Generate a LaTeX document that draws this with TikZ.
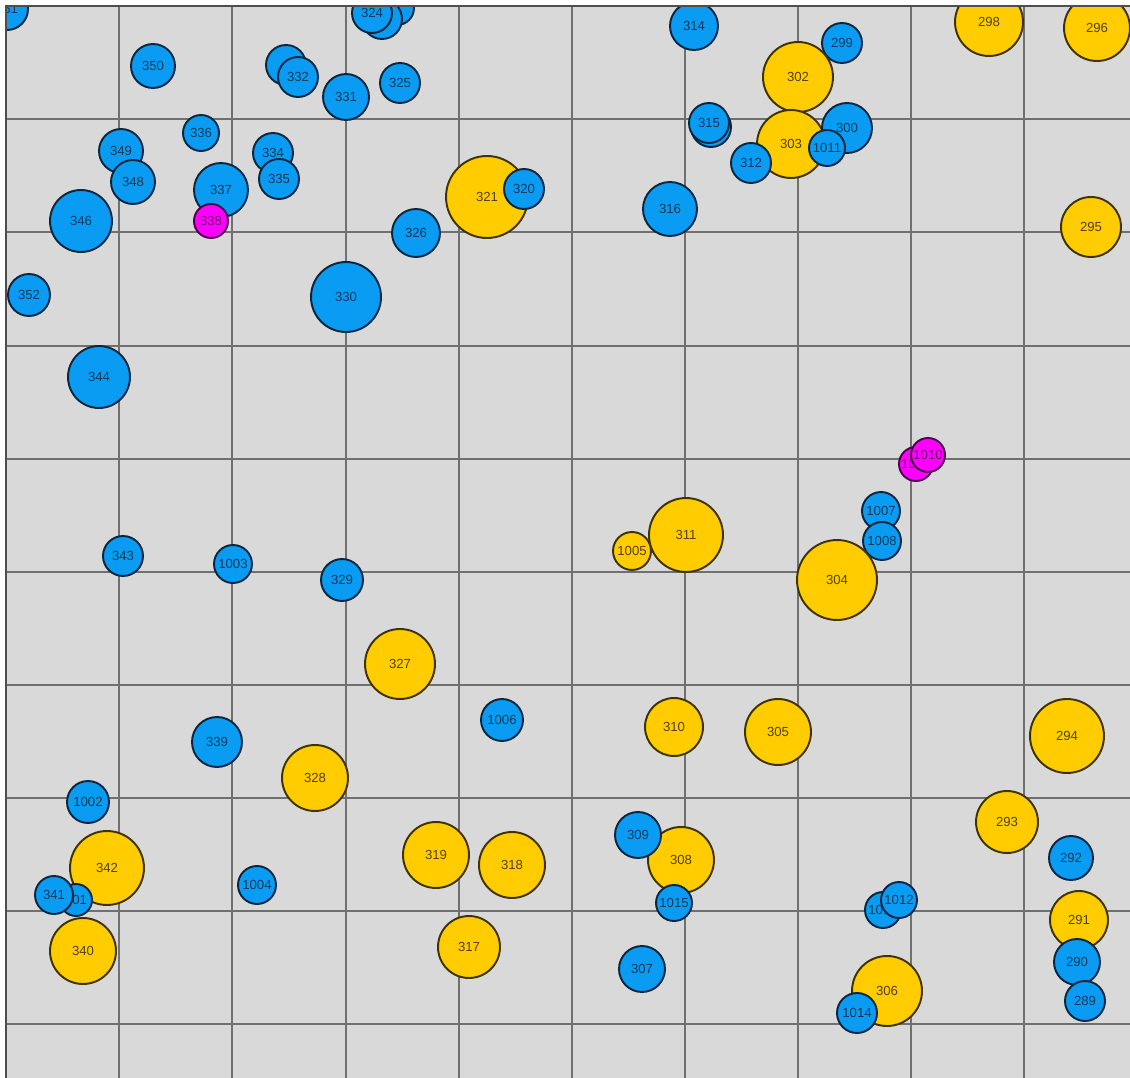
\documentclass[tikz,border=0pt]{standalone}
\usepackage{fontspec}
\setmainfont{Liberation Sans}
\usetikzlibrary{positioning}
\definecolor{panelgray}{HTML}{D9D9D9}
\definecolor{gridgray}{HTML}{707070}
\definecolor{ballblue}{HTML}{0A9CF2}
\definecolor{ballyellow}{HTML}{FFCC00}
\definecolor{ballpink}{HTML}{FF00FF}
\definecolor{blueedge}{HTML}{0B2740}
\definecolor{yellowedge}{HTML}{3F3300}
\definecolor{pinkedge}{HTML}{4A004A}
\tikzset{
    ball/.style={
        circle, draw, inner sep=0pt, line width=1.1pt,
        minimum size=#1*0.04cm,
        font=\fontsize{7.5}{8}\selectfont
    },
    blueball/.style={ball=#1, fill=ballblue, draw=blueedge, text=blueedge!85!ballblue},
    yellowball/.style={ball=#1, fill=ballyellow, draw=yellowedge, text=yellowedge!90!ballyellow},
    pinkball/.style={ball=#1, fill=ballpink, draw=pinkedge, text=pinkedge!80!ballpink},
    gridline/.style={gridgray, line width=0.04cm}
}

\begin{document}
\begin{tikzpicture}[x=0.02cm, y=-0.02cm]
    \useasboundingbox (0,0) rectangle (1130,1078);
    \fill[white] (0,0) rectangle (1130,1078);
    \fill[panelgray] (6,6) rectangle (1130,1078);
    \begin{scope}
        \clip (6,6) rectangle (1130,1078);
        \foreach \g in {119,232,346,459,572,685,798,911,1024}{
            \draw[gridline] (\g,6) -- (\g,1078);
            \draw[gridline] (6,\g) -- (1130,\g);
        }

        \node[blueball=21] (c351) at (7,9) {351};
        \node[blueball=22] (c350) at (153,66) {350};
        \node[blueball=20] (c333) at (286,65) {};
        \node[blueball=20] (c332) at (298,77) {332};
        \node[blueball=18] (c336) at (201,133) {336};
        \node[blueball=22] (c349) at (121,151) {349};
        \node[blueball=22] (c348) at (133,182) {348};
        \node[blueball=31] (c346) at (81,221) {346};
        \node[blueball=20] (c334) at (273,153) {334};
        \node[blueball=20] (c335) at (279,179) {335};
        \node[blueball=27] (c337) at (221,190) {337};
        \node[pinkball=17] (c338) at (211,221) {338};
        \node[blueball=17] (c324c) at (397,8) {};
        \node[blueball=20] (c324b) at (382,19) {};
        \node[blueball=20] (c324) at (372,13) {324};
        \node[blueball=23] (c331) at (346,97) {331};
        \node[blueball=20] (c325) at (400,83) {325};
        \node[yellowball=41] (c321) at (487,197) {321};
        \node[blueball=20] (c320) at (524,189) {320};
        \node[blueball=24] (c326) at (416,233) {326};
        \node[blueball=35] (c330) at (346,297) {330};

        \node[blueball=24] (c314) at (694,26) {314};
        \node[blueball=20] (c299) at (842,43) {299};
        \node[yellowball=35] (c302) at (798,77) {302};
        \node[yellowball=34] (c303) at (791,144) {303};
        \node[blueball=25] (c300) at (847,128) {300};
        \node[blueball=18] (c1011) at (827,148) {1011};
        \node[blueball=20] (c315b) at (711,127) {};
        \node[blueball=20] (c315) at (709,123) {315};
        \node[blueball=20] (c312) at (751,163) {312};
        \node[blueball=27] (c316) at (670,209) {316};
        \node[yellowball=34] (c298) at (989,22) {298};
        \node[yellowball=33] (c296) at (1097,28) {296};
        \node[yellowball=30] (c295) at (1091,227) {295};

        \node[blueball=21] (c352) at (29,295) {352};
        \node[blueball=31] (c344) at (99,377) {344};
        \node[blueball=20] (c343) at (123,556) {343};
        \node[blueball=19] (c1003) at (233,564) {1003};
        \node[blueball=21] (c329) at (342,580) {329};

        \node[pinkball=17] (c1009) at (916,464) {1009};
        \node[pinkball=17] (c1010) at (928,455) {1010};
        \node[blueball=19] (c1007) at (881,511) {1007};
        \node[blueball=19] (c1008) at (882,541) {1008};
        \node[yellowball=40] (c304) at (837,580) {304};
        \node[yellowball=19] (c1005) at (632,551) {1005};
        \node[yellowball=37] (c311) at (686,535) {311};

        \node[yellowball=35] (c327) at (400,664) {327};
        \node[blueball=21] (c1006) at (502,720) {1006};
        \node[yellowball=29] (c310) at (674,727) {310};
        \node[yellowball=33] (c305) at (778,732) {305};
        \node[yellowball=37] (c294) at (1067,736) {294};
        \node[blueball=25] (c339) at (217,742) {339};
        \node[yellowball=33] (c328) at (315,778) {328};
        \node[blueball=21] (c1002) at (88,802) {1002};
        \node[yellowball=37] (c342) at (107,868) {342};
        \node[blueball=16] (c301) at (76,900) {301};
        \node[blueball=19] (c341) at (54,895) {341};
        \node[yellowball=33] (c340) at (83,951) {340};
        \node[blueball=19] (c1004) at (257,885) {1004};
        \node[yellowball=33] (c319) at (436,855) {319};
        \node[yellowball=33] (c318) at (512,865) {318};
        \node[yellowball=33] (c308) at (681,860) {308};
        \node[blueball=23] (c309) at (638,835) {309};
        \node[blueball=18] (c1015) at (674,903) {1015};
        \node[yellowball=31] (c317) at (469,947) {317};
        \node[blueball=23] (c307) at (642,969) {307};
        \node[yellowball=31] (c293) at (1007,822) {293};
        \node[blueball=22] (c292) at (1071,858) {292};
        \node[blueball=18] (c1013) at (883,910) {1013};
        \node[blueball=18] (c1012) at (899,900) {1012};
        \node[yellowball=29] (c291) at (1079,920) {291};
        \node[blueball=23] (c290) at (1077,962) {290};
        \node[blueball=20] (c289) at (1085,1001) {289};
        \node[yellowball=35] (c306) at (887,991) {306};
        \node[blueball=20] (c1014) at (857,1013) {1014};
    \end{scope}
    \draw[gridgray!70!black, line width=1.1pt] (6,1078) -- (6,6) -- (1130,6);
\end{tikzpicture}
\end{document}
